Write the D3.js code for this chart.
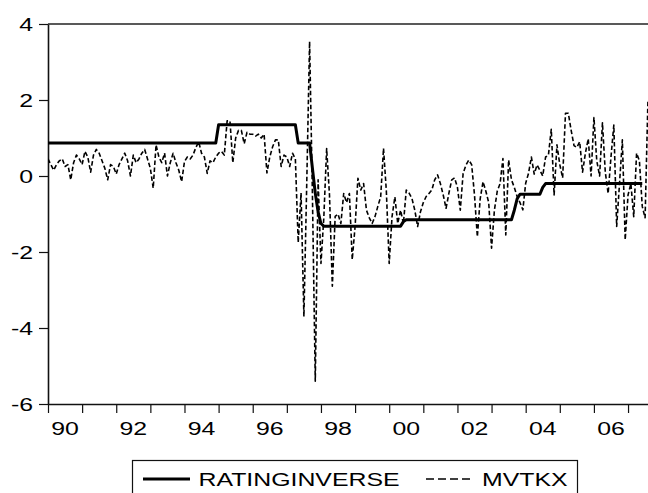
<!DOCTYPE html>
<html><head><meta charset="utf-8">
<script src="https://cdn.jsdelivr.net/npm/d3@7"></script>
<style>body{margin:0;background:#fff} svg{display:block}</style>
</head><body>
<svg id="c" width="648" height="493"></svg>
<script>
// ---- data ----
const startYear = 1990;            // first monthly observation: Jan 1990
const yTicks = [-6, -4, -2, 0, 2, 4];
const xTickYears = [1990,1991,1992,1993,1994,1995,1996,1997,1998,1999,2000,2001,2002,2003,2004,2005,2006,2007];
const xLabelYears = [1990,1992,1994,1996,1998,2000,2002,2004,2006];
const xLabels = ["90","92","94","96","98","00","02","04","06"];
const seriesNames = ["RATINGINVERSE", "MVTKX"];

const mvtkx = [
  0.45, 0.3, 0.15, 0.3, 0.4, 0.45, 0.25, 0.3, -0.1, 0.35, 0.55, 0.45,
  0.3, 0.65, 0.5, 0.1, 0.55, 0.7, 0.6, 0.4, 0.2, -0.1, 0.3, 0.25,
  0.05, 0.3, 0.45, 0.6, 0.4, 0.0, 0.55, 0.35, 0.45, 0.6, 0.7, 0.45,
  0.2, -0.32, 0.82, 0.5, 0.35, 0.6, 0.0, 0.35, 0.6, 0.35, 0.15, -0.15,
  0.38, 0.5, 0.45, 0.55, 0.75, 0.9, 0.6, 0.5, 0.07, 0.4, 0.35, 0.5,
  0.6, 0.65, 0.55, 1.45, 1.45, 0.35, 1.0, 1.2, 1.2, 0.85, 1.15, 1.1,
  1.1, 1.05, 1.1, 1.0, 1.1, 0.08, 0.5, 0.77, 0.95, 0.95, 0.25, 0.55,
  0.5, 0.25, 0.6, 0.45, -1.75, -0.45, -3.7, -0.2, 3.54, -0.5, -5.4, -0.1,
  -2.3, -1.1, 0.72, -0.5, -2.9, -1.06, -1.0, -1.25, -0.46, -0.7, -0.46, -2.2,
  -1.33, -0.06, -0.37, -0.2, -0.9, -1.1, -1.25, -1.07, -0.8, -0.55, 0.73, -0.4,
  -2.3, -1.07, -0.55, -1.25, -0.9, -1.25, -0.37, -0.45, -0.59, -0.9, -1.33, -0.94,
  -0.7, -0.54, -0.46, -0.37, -0.1, 0.03, -0.2, -0.5, -0.85, -0.45, -0.1, -0.05,
  -0.3, -0.9, 0.07, 0.29, 0.42, 0.3, -0.5, -1.6, -0.6, -0.15, -0.4, -0.7,
  -1.9, -0.9, -0.4, -0.2, 0.46, -1.55, 0.42, -0.1, -0.3, -0.54, -0.7, -0.89,
  -0.19, 0.07, 0.5, 0.05, 0.29, 0.15, 0.0, 0.5, 0.55, 1.23, -0.5, 0.82,
  0.3, -0.05, 1.65, 1.65, 1.2, 0.8, 0.75, 0.9, 0.1, 0.6, 0.98, 0.0,
  1.54, 0.4, 0.0, 1.4, 0.1, -0.46, 0.5, 1.34, -1.33, -0.2, 0.95, -1.68,
  -0.5, -0.2, -1.07, 0.6, 0.4, -0.8, -1.1, 2.0
];

const rating = [
  0.87,0.87,0.87,0.87,0.87,0.87,0.87,0.87,0.87,0.87,0.87,0.87,
  0.87,0.87,0.87,0.87,0.87,0.87,0.87,0.87,0.87,0.87,0.87,0.87,
  0.87,0.87,0.87,0.87,0.87,0.87,0.87,0.87,0.87,0.87,0.87,0.87,
  0.87,0.87,0.87,0.87,0.87,0.87,0.87,0.87,0.87,0.87,0.87,0.87,
  0.87,0.87,0.87,0.87,0.87,0.87,0.87,0.87,0.87,0.87,0.87,0.87,
  1.35,1.35,1.35,1.35,1.35,1.35,1.35,1.35,1.35,1.35,1.35,1.35,
  1.35,1.35,1.35,1.35,1.35,1.35,1.35,1.35,1.35,1.35,1.35,1.35,
  1.35,1.35,1.35,1.35,0.87,0.87,0.87,0.87,0.87,0.2,-0.45,-0.95,
  -1.25,-1.32,-1.32,-1.32,-1.32,-1.32,-1.32,-1.32,-1.32,-1.32,-1.32,-1.32,
  -1.32,-1.32,-1.32,-1.32,-1.32,-1.32,-1.32,-1.32,-1.32,-1.32,-1.32,-1.32,
  -1.32,-1.32,-1.32,-1.32,-1.32,-1.2,-1.15,-1.15,-1.15,-1.15,-1.15,-1.15,
  -1.15,-1.15,-1.15,-1.15,-1.15,-1.15,-1.15,-1.15,-1.15,-1.15,-1.15,-1.15,
  -1.15,-1.15,-1.15,-1.15,-1.15,-1.15,-1.15,-1.15,-1.15,-1.15,-1.15,-1.15,
  -1.15,-1.15,-1.15,-1.15,-1.15,-1.15,-1.15,-1.15,-0.9,-0.6,-0.48,-0.48,
  -0.48,-0.48,-0.48,-0.48,-0.48,-0.48,-0.3,-0.2,-0.2,-0.2,-0.2,-0.2,
  -0.2,-0.2,-0.2,-0.2,-0.2,-0.2,-0.2,-0.2,-0.2,-0.2,-0.2,-0.2,
  -0.2,-0.2,-0.2,-0.2,-0.2,-0.2,-0.2,-0.2,-0.2,-0.2,-0.2,-0.2,
  -0.2,-0.2,-0.2,-0.2,-0.2,-0.2
];

// ---- layout ----
const FONT = "'Liberation Sans', Arial, sans-serif";
const FS = 18, SX = 1.38;
const pL = 48, pT = 24, pB = 404, pR = 650;

const svg = d3.select("#c");
const x = d3.scaleLinear().domain([1990, 2007.6]).range([pL, pL + 17.6 * 34.12]);
const y = d3.scaleLinear().domain([-6, 4]).range([pB, pT]);

svg.append("defs").append("clipPath").attr("id", "pc")
  .append("rect").attr("x", pL).attr("y", pT).attr("width", pR - pL).attr("height", pB - pT);

// top border
svg.append("line").attr("x1", pL).attr("x2", pR).attr("y1", pT).attr("y2", pT)
  .attr("stroke", "#222").attr("stroke-width", 1.4);

// y axis
const gy = svg.append("g").attr("transform", `translate(${pL},0)`)
  .call(d3.axisLeft(y).tickValues(yTicks).tickSize(9).tickSizeOuter(0).tickPadding(0).tickFormat(d => String(d)));
gy.select(".domain").attr("stroke", "#111").attr("stroke-width", 1.6);
gy.selectAll(".tick line").attr("stroke", "#111").attr("stroke-width", 1.2);
gy.selectAll(".tick text").attr("x", 0).attr("dy", "0.35em")
  .attr("transform", `translate(-15,0) scale(${SX},1)`)
  .attr("font-size", FS).attr("font-family", FONT).attr("fill", "#000");

// x axis
const gx = svg.append("g").attr("transform", `translate(0,${pB})`)
  .call(d3.axisBottom(x).tickValues(xTickYears).tickSize(9).tickSizeOuter(0).tickFormat(""));
gx.select(".domain").attr("stroke", "#111").attr("stroke-width", 1.6);
gx.selectAll(".tick line").attr("stroke", "#111").attr("stroke-width", 1.2);

svg.append("g").selectAll("text").data(xLabels).join("text")
  .attr("transform", (d, i) => `translate(${x(xLabelYears[i] + 0.5)},435) scale(${SX},1)`)
  .attr("text-anchor", "middle").attr("font-size", FS).attr("font-family", FONT).attr("fill", "#000")
  .text(d => d);

// series
const line = d3.line().x((d, i) => x(startYear + i / 12)).y(d => y(d));
const plot = svg.append("g").attr("clip-path", "url(#pc)");
plot.append("path").datum(rating).attr("d", line)
  .attr("fill", "none").attr("stroke", "#000").attr("stroke-width", 3).attr("stroke-linejoin", "round");
plot.append("path").datum(mvtkx).attr("d", line)
  .attr("fill", "none").attr("stroke", "#000").attr("stroke-width", 1.6)
  .attr("stroke-dasharray", "4.5,2.5").attr("stroke-linejoin", "round");

// legend
const lg = svg.append("g");
lg.append("rect").attr("x", 132.5).attr("y", 460.5).attr("width", 445).attr("height", 60)
  .attr("fill", "#fff").attr("stroke", "#111").attr("stroke-width", 1.2);
lg.append("line").attr("x1", 143).attr("x2", 190).attr("y1", 479).attr("y2", 479)
  .attr("stroke", "#000").attr("stroke-width", 3);
lg.append("text").attr("transform", `translate(198.5,486) scale(${SX},1)`)
  .attr("font-size", FS).attr("font-family", FONT).text(seriesNames[0]);
lg.append("line").attr("x1", 426).attr("x2", 474).attr("y1", 479).attr("y2", 479)
  .attr("stroke", "#000").attr("stroke-width", 1.3).attr("stroke-dasharray", "8,4");
lg.append("text").attr("transform", `translate(482,486) scale(${SX},1)`)
  .attr("font-size", FS).attr("font-family", FONT).text(seriesNames[1]);
</script>
</body></html>
